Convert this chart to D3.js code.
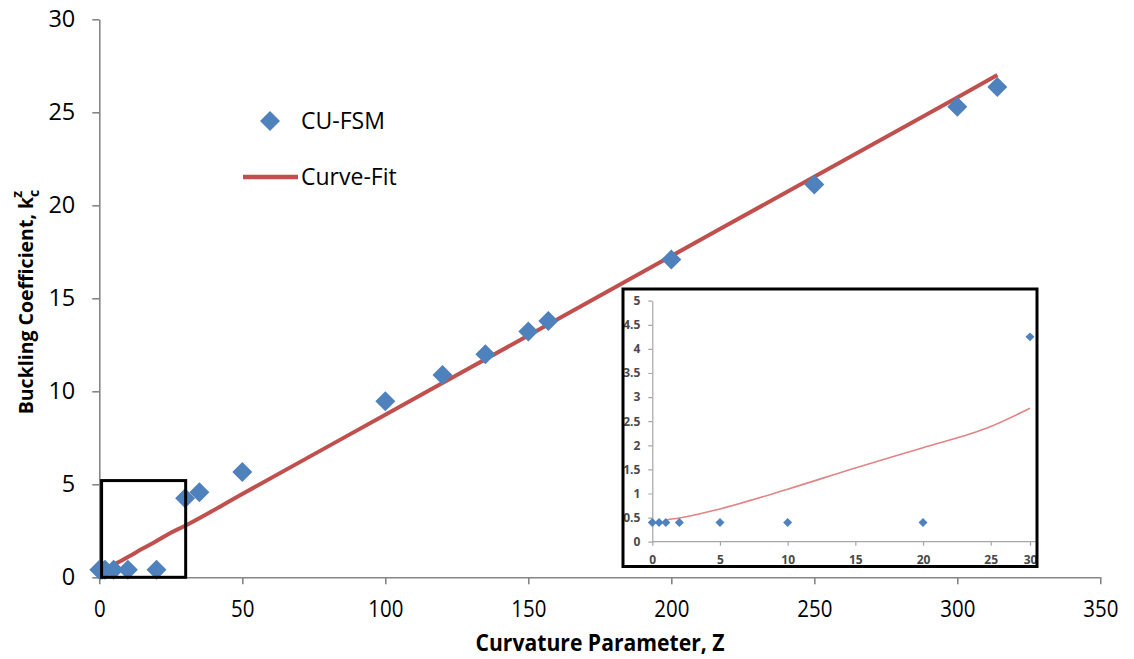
<!DOCTYPE html>
<html>
<head>
<meta charset="utf-8">
<script src="https://cdn.jsdelivr.net/npm/d3@7"></script>
<style>
  html, body { margin: 0; padding: 0; background: #fff; }
  svg { display: block; }
  text { font-family: "Open Sans", "Noto Sans", sans-serif; }
</style>
</head>
<body>
<svg id="chart" width="1134" height="659"></svg>
<script>
// ---- data ----
const fsmZ = [0, 0.5, 1, 2, 5, 10, 20, 30, 35, 50, 100, 120, 135, 150, 157, 200, 250, 300, 314];
const fsmK = [0.4, 0.4, 0.4, 0.4, 0.4, 0.4, 0.4, 4.25, 4.57, 5.66, 9.47, 10.88, 11.99, 13.22, 13.78, 17.08, 21.12, 25.3, 26.36];
const fitZ = [1, 2, 5, 10, 15, 20, 25, 30, 50, 100, 150, 200, 250, 300, 314];
const fitK = [0.45, 0.49, 0.68, 1.09, 1.53, 1.95, 2.39, 2.77, 4.48, 8.74, 13.0, 17.27, 21.54, 25.8, 27.0];
const xTicks = [0, 50, 100, 150, 200, 250, 300, 350];
const yTicks = [0, 5, 10, 15, 20, 25, 30];
const insetXTicks = [0, 5, 10, 15, 20, 25, 30];
const insetYTicks = [0, 0.5, 1, 1.5, 2, 2.5, 3, 3.5, 4, 4.5, 5];
const zoomBoxZ = [0.8, 30.2];
const zoomBoxK = [0, 5.2];
const legendLabels = ["CU-FSM", "Curve-Fit"];

const blue = "#4F81BD", red = "#C0504D", axisGrey = "#868686";

const svg = d3.select("#chart");

// ---- main scales ----
const x = d3.scaleLinear().domain([0, 350]).range([99.3, 1100.3]);
const y = d3.scaleLinear().domain([0, 30]).range([577.3, 19.3]);

// axes
const xAxis = svg.append("g").attr("transform", `translate(0,${y(0)})`)
  .call(d3.axisBottom(x).tickValues(xTicks).tickSize(7).tickPadding(16).tickSizeOuter(0));
const yAxis = svg.append("g").attr("transform", `translate(${x(0)},0)`)
  .call(d3.axisLeft(y).tickValues(yTicks).tickSize(7).tickPadding(17).tickSizeOuter(0));
[xAxis, yAxis].forEach(g => {
  g.select(".domain").attr("stroke", axisGrey).attr("stroke-width", 1.6);
  g.selectAll(".tick line").attr("stroke", axisGrey).attr("stroke-width", 1.6);
  g.selectAll(".tick text").attr("fill", "#000").style("font-size", "23.5px");
});
xAxis.selectAll(".tick text").attr("transform", "scale(0.87,1)");

// axis titles
svg.append("text")
  .attr("transform", "translate(600,651) scale(0.92,1)")
  .attr("text-anchor", "middle")
  .style("font-size", "23px").style("font-weight", "700")
  .text("Curvature Parameter, Z");

const yt = svg.append("text")
  .attr("transform", "translate(33,302) rotate(-90)")
  .attr("text-anchor", "middle")
  .style("font-size", "19.5px").style("font-weight", "700");
yt.append("tspan").text("Buckling Coefficient, k");
yt.append("tspan").attr("dy", 6).style("font-size", "14px").text("c");
yt.append("tspan").attr("dx", -8).attr("dy", -17).style("font-size", "14px").text("z");

// fit line
const line = d3.line().x((d, i) => x(fitZ[i])).y((d, i) => y(fitK[i])).curve(d3.curveMonotoneX);
svg.append("path").datum(fitZ)
  .attr("d", line).attr("fill", "none")
  .attr("stroke", red).attr("stroke-width", 4);

// markers
const diamond = d3.symbol().type(d3.symbolSquare).size(200);
svg.append("g").selectAll("path").data(fsmZ).join("path")
  .attr("d", diamond)
  .attr("transform", (d, i) => `translate(${x(d)},${y(fsmK[i])}) rotate(45)`)
  .attr("fill", blue);

// zoom box
svg.append("rect")
  .attr("x", x(zoomBoxZ[0])).attr("y", y(zoomBoxK[1]))
  .attr("width", x(zoomBoxZ[1]) - x(zoomBoxZ[0]))
  .attr("height", y(zoomBoxK[0]) - y(zoomBoxK[1]))
  .attr("fill", "none").attr("stroke", "#000").attr("stroke-width", 3);

// legend
svg.append("path").attr("d", diamond).attr("transform", "translate(270,121) rotate(45)").attr("fill", blue);
svg.append("text").attr("x", 301).attr("y", 129).style("font-size", "23px").text(legendLabels[0]);
svg.append("line").attr("x1", 243).attr("x2", 298).attr("y1", 177).attr("y2", 177)
  .attr("stroke", red).attr("stroke-width", 4.5);
svg.append("text").attr("x", 301).attr("y", 185).style("font-size", "23px").text(legendLabels[1]);

// ---- inset ----
const fx0 = 623, fy0 = 289, fx1 = 1037, fy1 = 566.5;
svg.append("defs").append("clipPath").attr("id", "insetClip")
  .append("rect").attr("x", fx0).attr("y", fy0).attr("width", fx1 - fx0).attr("height", fy1 - fy0);
svg.append("rect").attr("x", fx0).attr("y", fy0).attr("width", fx1 - fx0).attr("height", fy1 - fy0)
  .attr("fill", "#fff");
const inset = svg.append("g").attr("clip-path", "url(#insetClip)");
const ix = d3.scaleLinear().domain([0, 25, 30]).range([652.3, 990.7, 1030]);
const iy = d3.scaleLinear().domain([0, 5]).range([541.7, 300.7]);

const ixAxis = inset.append("g").attr("transform", `translate(0,${iy(0)})`)
  .call(d3.axisBottom(ix).tickValues(insetXTicks).tickSize(4).tickPadding(10).tickSizeOuter(0));
ixAxis.select(".domain").attr("d", `M${ix(0)},0H${fx1}`);
const iyAxis = inset.append("g").attr("transform", `translate(${ix(0)},0)`)
  .call(d3.axisLeft(iy).tickValues(insetYTicks).tickFormat(d3.format("~g")).tickSize(4).tickPadding(8).tickSizeOuter(0));
[ixAxis, iyAxis].forEach(g => {
  g.select(".domain").attr("stroke", "#a6a6a6").attr("stroke-width", 1.2);
  g.selectAll(".tick line").attr("stroke", "#a6a6a6").attr("stroke-width", 1.2);
  g.selectAll(".tick text").attr("fill", "#4a4a4a").style("font-size", "12px").style("font-weight", "700");
});

const insetFit = fitZ.map((z, i) => [z, fitK[i]]).filter(d => d[0] <= 30);
inset.append("path").datum(insetFit)
  .attr("d", d3.line().x(d => ix(d[0])).y(d => iy(d[1])).curve(d3.curveMonotoneX))
  .attr("fill", "none").attr("stroke", "#E08585").attr("stroke-width", 1.6);

const smallDiamond = d3.symbol().type(d3.symbolSquare).size(40);
inset.append("g").selectAll("path").data(fsmZ.filter(z => z <= 30)).join("path")
  .attr("d", smallDiamond)
  .attr("transform", (d, i) => `translate(${ix(d)},${iy(fsmK[i])}) rotate(45)`)
  .attr("fill", blue);

svg.append("rect").attr("x", fx0).attr("y", fy0).attr("width", fx1 - fx0).attr("height", fy1 - fy0)
  .attr("fill", "none").attr("stroke", "#000").attr("stroke-width", 3);
</script>
</body>
</html>
